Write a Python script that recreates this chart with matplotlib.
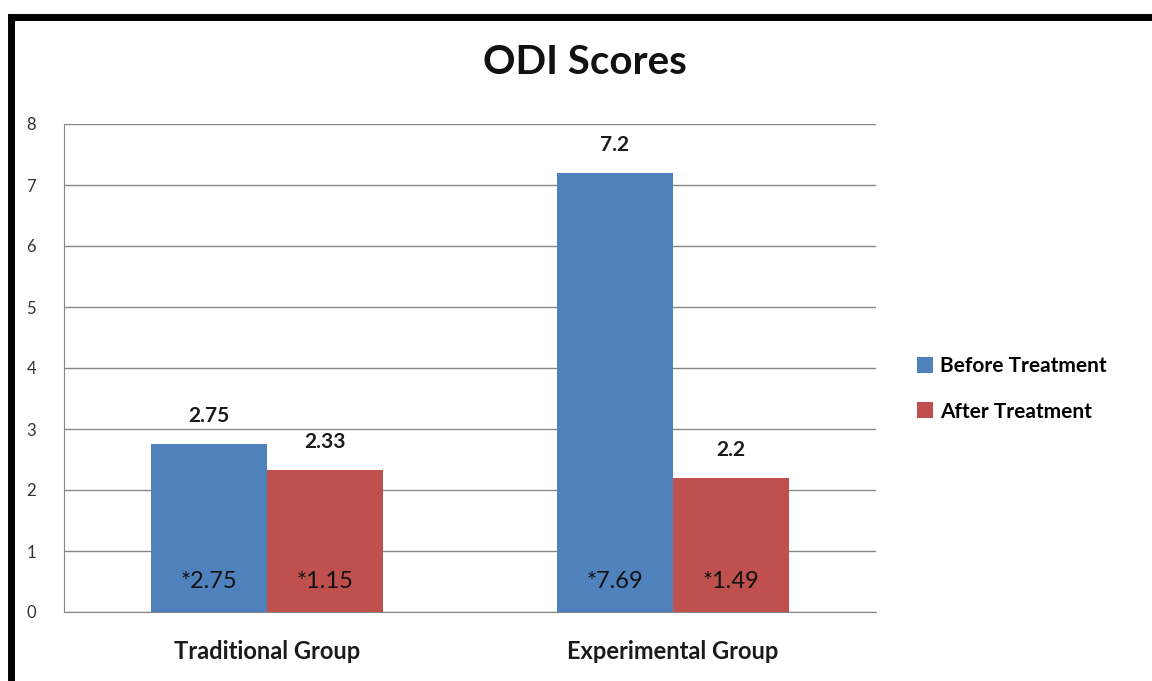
import matplotlib.pyplot as plt
import matplotlib.lines as mlines
import numpy as np

plt.rcParams['font.family'] = ['Lato', 'DejaVu Sans']

groups = ["Traditional Group", "Experimental Group"]
before = [2.75, 7.2]
after = [2.33, 2.2]
before_inner = ["*2.75", "*7.69"]
after_inner = ["*1.15", "*1.49"]
series = ["Before Treatment", "After Treatment"]
yticks = [0, 1, 2, 3, 4, 5, 6, 7, 8]

blue = '#4F81BD'
red = '#C0504D'
W, H = 1152, 681

fig = plt.figure(figsize=(W / 100, H / 100), dpi=100)
fig.patch.set_facecolor('white')

# thick black frame at left/top of the page
fig.add_artist(mlines.Line2D([11 / W, 11 / W], [0, 1 - 17 / H], color='black', lw=5, transform=fig.transFigure))
fig.add_artist(mlines.Line2D([11 / W, 1], [1 - 17 / H, 1 - 17 / H], color='black', lw=5, transform=fig.transFigure))

ax = fig.add_axes([64 / W, (H - 612) / H, 812 / W, 488 / H])
x = np.arange(len(groups))
bw = 0.286
b1 = ax.bar(x - bw / 2, before, bw, color=blue, label=series[0], zorder=3)
b2 = ax.bar(x + bw / 2, after, bw, color=red, label=series[1], zorder=3)

ax.set_xlim(-0.5, 1.5)
ax.set_ylim(0, 8)
ax.set_yticks(yticks)
ax.set_xticks(x)
ax.set_xticklabels(groups, fontsize=17, fontweight='bold', color='#1a1a1a')
ax.tick_params(axis='y', length=0, pad=20, labelsize=12, labelcolor='#333333')
ax.tick_params(axis='x', length=0, pad=20)
ax.grid(axis='y', color='#868686', lw=1, zorder=0)
for s in ['top', 'right']:
    ax.spines[s].set_visible(False)
for s in ['left', 'bottom']:
    ax.spines[s].set_color('#868686')

for bars, vals, inner in [(b1, before, before_inner), (b2, after, after_inner)]:
    for rect, v, t in zip(bars, vals, inner):
        cx = rect.get_x() + rect.get_width() / 2
        ax.annotate(str(v), (cx, v), xytext=(0, 13), textcoords='offset points',
                    ha='center', va='bottom', fontsize=15, fontweight='bold', color='#1a1a1a')
        ax.text(cx, 0.5, t, ha='center', va='center', fontsize=17, color='#111111', zorder=4)

fig.text(585 / W, 1 - 62 / H, "ODI Scores", ha='center', va='center', fontsize=29, fontweight='bold', color='#111111')

ax.legend(loc='center left', bbox_to_anchor=(898 / W, 1 - 389 / H), bbox_transform=fig.transFigure,
          frameon=False, prop={'weight': 'bold', 'size': 15}, handlelength=0.8, handleheight=0.8,
          handletextpad=0.3, labelspacing=1.2)

fig.savefig('out.png', dpi=100)
